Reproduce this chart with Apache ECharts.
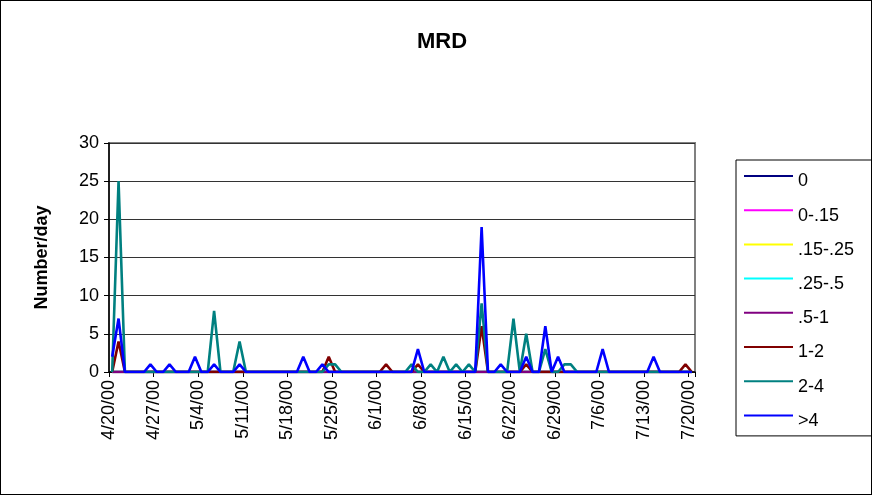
<!DOCTYPE html>
<html>
<head>
<meta charset="utf-8">
<script src="https://cdn.jsdelivr.net/npm/echarts@6/dist/echarts.min.js"></script>
<style>
html,body{margin:0;padding:0;background:#fff;}
#chart{width:872px;height:495px;box-sizing:border-box;border:1px solid #000;}
</style>
</head>
<body>
<div id="chart"></div>
<script>
// Categories: daily dates 4/20/00 .. 7/20/00 (92 days)
const dates = [];
(function(){ const d0 = new Date(2000, 3, 20); for (let i = 0; i < 92; i++) { const d = new Date(d0.getFullYear(), d0.getMonth(), d0.getDate() + i); dates.push((d.getMonth()+1) + '/' + d.getDate() + '/00'); } })();

const seriesNames = ['0', '0-.15', '.15-.25', '.25-.5', '.5-1', '1-2', '2-4', '>4'];

const s0 = [
 0,0,0,0,0,0,0,0,0,0, 0,0,0,0,0,0,0,0,0,0, 0,0,0,0,0,0,0,0,0,0,
 0,0,0,0,0,0,0,0,0,0, 0,0,0,0,0,0,0,0,0,0, 0,0,0,0,0,0,0,0,0,0,
 0,0,0,0,0,0,0,0,0,0, 0,0,0,0,0,0,0,0,0,0, 0,0,0,0,0,0,0,0,0,0, 0,0];
const s0_15 = [
 0,0,0,0,0,0,0,0,0,0, 0,0,0,0,0,0,0,0,0,0, 0,0,0,0,0,0,0,0,0,0,
 0,0,0,0,0,0,0,0,0,0, 0,0,0,0,0,0,0,0,0,0, 0,0,0,0,0,0,0,0,0,0,
 0,0,0,0,0,0,0,0,0,0, 0,0,0,0,0,0,0,0,0,0, 0,0,0,0,0,0,0,0,0,0, 0,0];
const s15_25 = [
 0,0,0,0,0,0,0,0,0,0, 0,0,0,0,0,0,0,0,0,0, 0,0,0,0,0,0,0,0,0,0,
 0,0,0,0,0,0,0,0,0,0, 0,0,0,0,0,0,0,0,0,0, 0,0,0,0,0,0,0,0,0,0,
 0,0,0,0,0,0,0,0,0,0, 0,0,0,0,0,0,0,0,0,0, 0,0,0,0,0,0,0,0,0,0, 0,0];
const s25_5 = [
 0,0,0,0,0,0,0,0,0,0, 0,0,0,0,0,0,0,0,0,0, 0,0,0,0,0,0,0,0,0,0,
 0,0,0,0,0,0,0,0,0,0, 0,0,0,0,0,0,0,0,0,0, 0,0,0,0,0,0,0,0,0,0,
 0,0,0,0,0,0,0,0,0,0, 0,0,0,0,0,0,0,0,0,0, 0,0,0,0,0,0,0,0,0,0, 0,0];
const s5_1 = [
 0,0,0,0,0,0,0,0,0,0, 0,0,0,0,0,0,0,0,0,0, 0,0,0,0,0,0,0,0,0,0,
 0,0,0,0,0,0,0,0,0,0, 0,0,0,0,0,0,0,0,0,0, 0,0,0,0,0,0,0,0,0,0,
 0,0,0,0,0,0,0,0,0,0, 0,0,0,0,0,0,0,0,0,0, 0,0,0,0,0,0,0,0,0,0, 0,0];
const s1_2 = [
 0,4,0,0,0,0,0,0,0,0, 0,0,0,0,0,0,0,0,0,0, 0,0,0,0,0,0,0,0,0,0,
 0,0,0,0,2,0,0,0,0,0, 0,0,0,1,0,0,0,0,1,0, 0,0,0,0,0,0,0,0,6,0,
 0,0,0,0,0,1,0,0,0,0, 0,0,0,0,0,0,0,0,0,0, 0,0,0,0,0,0,0,0,0,0, 1,0];
const s2_4 = [
 0,25,0,0,0,0,0,0,0,0, 0,0,0,0,0,0,8,0,0,0, 4,0,0,0,0,0,0,0,0,0,
 0,0,0,0,1,1,0,0,0,0, 0,0,0,0,0,0,0,1,0,0, 1,0,2,0,1,0,1,0,9,0,
 0,0,0,7,0,5,0,0,3,0, 0,1,1,0,0,0,0,0,0,0, 0,0,0,0,0,0,0,0,0,0, 0,0];
const sGt4 = [
 2,7,0,0,0,0,1,0,0,1, 0,0,0,2,0,0,1,0,0,0, 1,0,0,0,0,0,0,0,0,0,
 2,0,0,1,0,0,0,0,0,0, 0,0,0,0,0,0,0,0,3,0, 0,0,0,0,0,0,0,0,19,0,
 0,1,0,0,0,2,0,0,6,0, 2,0,0,0,0,0,0,3,0,0, 0,0,0,0,0,2,0,0,0,0, 0,0];

const seriesValues = [s0, s0_15, s15_25, s25_5, s5_1, s1_2, s2_4, sGt4];
const colors = ['#000080', '#FF00FF', '#FFFF00', '#00FFFF', '#800080', '#800000', '#008080', '#0000FF'];

const yTicks = [0, 5, 10, 15, 20, 25, 30];

const chart = echarts.init(document.getElementById('chart'), null, {renderer: 'canvas'});
const FONT = 'Arial, "Liberation Sans", sans-serif';

chart.setOption({
  animation: false,
  backgroundColor: '#fff',
  title: {
    text: 'MRD',
    left: 416, top: 30, padding: 0,
    textStyle: {fontFamily: FONT, fontSize: 22, fontWeight: 'bold', color: '#000'}
  },
  legend: {
    orient: 'vertical',
    left: 735, top: 159,
    padding: [1.5, 18, 6, 7],
    borderColor: '#000', borderWidth: 1,
    itemWidth: 49, itemHeight: 14, itemGap: 5.2,
    itemStyle: {opacity: 0},
    formatter: '{t|{name}}',
    textStyle: {
      fontFamily: FONT, fontSize: 18, color: '#000',
      rich: {t: {fontFamily: FONT, fontSize: 18, color: '#000', lineHeight: 20, padding: [11, 0, 0, 0]}}
    },
    data: seriesNames
  },
  grid: {
    left: 108, right: 176, top: 142, bottom: 122,
    show: true, borderColor: '#808080', borderWidth: 2, backgroundColor: 'transparent'
  },
  xAxis: {
    type: 'value', min: -0.5, max: 91.5, interval: 7,
    axisLine: {show: true, onZero: false, lineStyle: {color: '#000', width: 1.5}},
    axisTick: {show: true, length: 5, lineStyle: {color: '#000'}},
    splitLine: {show: false},
    axisLabel: {
      rotate: 90, margin: 8, fontFamily: FONT, fontSize: 18, color: '#000',
      showMaxLabel: true, showMinLabel: true,
      formatter: function (v) { const i = Math.round(v + 0.5); return (i >= 0 && i < dates.length && i % 7 === 0) ? dates[i] : ''; }
    }
  },
  yAxis: {
    type: 'value', min: yTicks[0], max: yTicks[yTicks.length-1], interval: 5,
    name: 'Number/day', nameLocation: 'middle', nameGap: 58,
    nameTextStyle: {fontFamily: FONT, fontSize: 18, fontWeight: 'bold', color: '#000'},
    axisLine: {show: true, onZero: false, lineStyle: {color: '#000', width: 1.5}},
    axisTick: {show: true, length: 5, lineStyle: {color: '#000'}},
    splitLine: {show: true, lineStyle: {color: '#333', width: 1}},
    axisLabel: {margin: 10, fontFamily: FONT, fontSize: 18, color: '#000'}
  },
  series: seriesNames.map((name, k) => ({
    name: name,
    type: 'line',
    symbol: 'none',
    color: colors[k],
    lineStyle: {color: colors[k], width: 2.6},
    itemStyle: {color: colors[k]},
    data: seriesValues[k].map((v, i) => [i, v])
  }))
});
</script>
</body>
</html>
